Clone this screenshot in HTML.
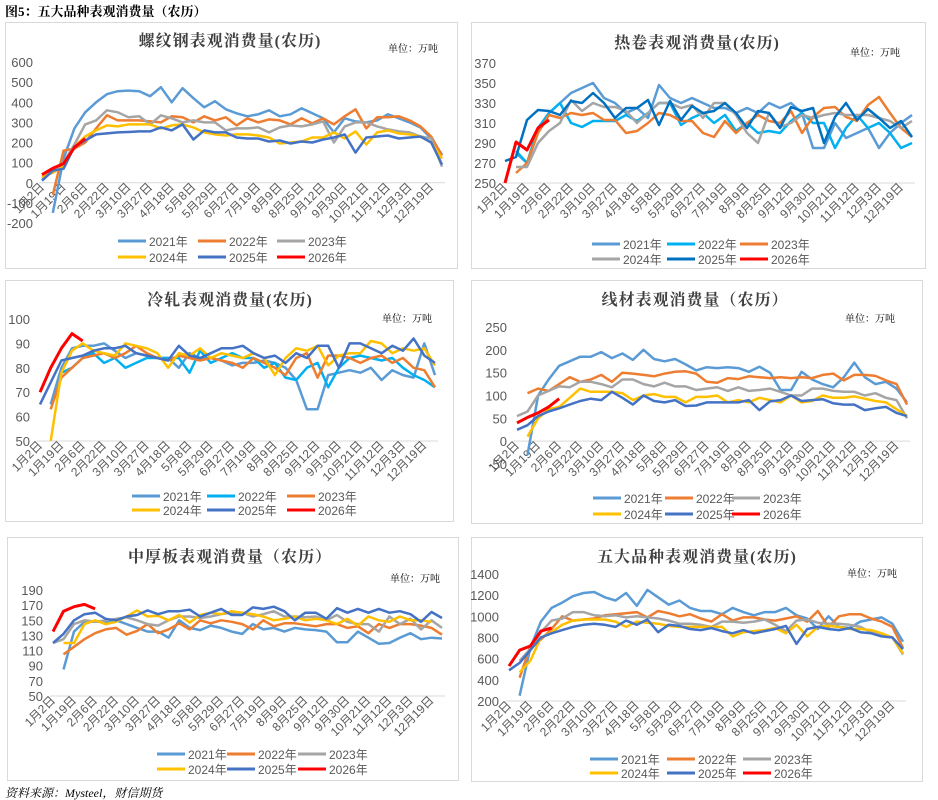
<!DOCTYPE html>
<html><head><meta charset="utf-8">
<style>
body{margin:0;background:#fff;width:938px;height:800px;overflow:hidden;font-family:"Liberation Sans","Noto Sans CJK SC",sans-serif;}
svg{position:absolute;left:0;top:0}
</style></head>
<body>
<svg id="c" width="938" height="800" xmlns="http://www.w3.org/2000/svg">
<text x="5" y="16" font-size="13" font-weight="bold" fill="#000" font-family="'Liberation Serif','Noto Serif CJK SC',serif">图5：五大品种表观消费量（农历）</text>
<text x="5" y="797" font-size="12" font-style="italic" fill="#000" font-family="'Liberation Serif','Noto Serif CJK SC',serif">资料来源：Mysteel，财信期货</text>
</svg>
<script>
const xLabels=["1月2日","1月19日","2月6日","2月22日","3月10日","3月27日","4月18日","5月8日","5月29日","6月27日","7月19日","8月9日","8月25日","9月12日","9月30日","10月21日","11月12日","12月3日","12月19日"];
const years=["2021年","2022年","2023年","2024年","2025年","2026年"];
// 螺纹钢
const rebar2021=[null,-150,120,270,350,400,440,455,458,455,430,475,400,470,420,375,405,365,345,330,340,360,330,340,370,345,320,250,320,305,300,310,340,320,300,275,220,140];
const rebar2022=[null,-60,160,170,200,270,335,310,310,310,305,300,330,325,300,330,310,325,285,320,300,315,310,290,320,295,320,290,330,365,270,325,325,330,310,280,230,135];
const rebar2023=[20,60,100,190,290,310,360,350,325,330,290,335,320,300,310,300,300,260,270,270,275,250,275,285,280,290,305,200,280,300,300,280,265,255,250,230,220,80];
const rebar2024=[30,50,80,180,230,260,285,280,290,290,290,270,285,290,275,250,240,235,240,240,235,225,195,200,205,225,225,250,220,255,190,250,260,245,240,230,200,120];
const rebar2025=[10,60,70,180,210,240,245,250,252,255,255,275,260,290,215,260,250,250,225,220,220,205,210,195,205,200,215,225,240,150,225,230,235,220,225,230,200,90];
const rebar2026=[40,72,95,175,220];
// 热卷
const hrc2021=[null,280,270,300,320,330,340,345,350,335,330,320,325,315,348,335,330,335,330,325,325,320,325,320,330,325,330,320,285,285,310,295,300,305,285,300,310,318];
const hrc2022=[null,282,270,305,320,330,310,306,312,312,312,318,312,320,330,330,308,315,320,310,318,302,310,300,302,300,312,320,310,310,285,305,318,305,310,300,285,290];
const hrc2023=[null,260,270,300,318,315,320,318,320,313,313,300,302,310,320,318,312,312,300,296,312,300,310,318,312,310,322,300,316,325,326,316,312,328,336,320,305,296];
const hrc2024=[null,266,266,290,302,310,333,322,330,326,326,322,310,320,330,330,325,328,315,330,330,318,300,290,320,306,310,318,315,318,320,318,318,318,315,312,305,312];
const hrc2025=[272,276,313,323,322,318,332,330,340,330,315,325,325,333,308,332,313,327,320,322,330,320,305,322,320,305,326,322,325,290,316,330,313,324,315,305,312,296];
const hrc2026=[250,291,283,305,313];
// 冷轧
const crc2021=[null,65,80,88,89,89,90,87,84,86,85,84,84,80,86,84,84,83,81,82,82,83,82,80,75,63,63,77,78,79,78,80,75,79,77,76,90,77];
const crc2022=[null,null,78,80,84,86,82,84,80,82,84,84,84,84,78,87,82,84,86,84,84,80,82,76,75,80,82,72,80,84,85,84,83,84,80,77,75,72];
const crc2023=[null,63,76,80,84,85,86,84,86,89,86,84,83,85,84,83,84,83,82,80,84,82,80,77,84,86,76,85,85,84,82,84,85,82,84,80,79,72];
const crc2024=[null,50,78,87,90,87,86,85,90,89,88,86,80,86,85,88,84,86,85,84,86,84,77,84,88,87,89,81,85,86,86,91,90,86,88,87,88,81];
const crc2025=[65,74,83,84,85,87,88,88,89,86,85,84,83,89,85,84,86,88,88,89,86,84,85,82,86,84,89,89,80,90,90,88,86,89,87,92,85,82];
const crc2026=[70,80,88,94,91];
// 线材
const wire2021=[null,-30,100,135,165,175,185,185,195,182,192,178,200,180,175,180,168,155,162,160,162,160,152,163,150,112,112,152,135,125,118,140,172,140,125,130,115,85];
const wire2022=[null,105,115,110,125,140,130,135,145,130,150,148,145,142,148,152,153,148,130,128,138,136,142,140,138,140,138,140,138,145,148,133,145,145,143,133,125,80];
const wire2023=[55,65,100,110,120,118,130,130,125,118,135,135,125,120,128,120,120,112,115,118,110,118,110,112,115,108,100,100,115,115,110,108,108,100,105,95,90,50];
const wire2024=[null,10,50,70,75,95,115,108,108,108,105,90,100,103,97,97,85,97,97,100,85,90,85,95,90,85,100,85,88,100,95,95,98,93,88,85,70,55];
const wire2025=[25,35,55,65,72,80,88,93,90,108,95,80,100,88,85,90,77,78,85,85,85,85,90,68,87,90,100,88,90,92,83,80,80,68,72,75,62,55];
const wire2026=[40,52,62,75,93];
// 中厚板
const plate2021=[null,85,135,148,148,148,150,145,140,135,135,127,150,140,137,143,140,135,132,145,138,140,135,140,138,137,135,121,121,135,127,119,120,127,133,125,127,126];
const plate2022=[null,105,115,125,133,138,140,131,136,145,133,138,146,138,150,146,150,148,145,138,150,142,146,146,144,142,145,145,140,142,133,145,140,145,145,143,140,131];
const plate2023=[120,125,145,150,148,150,152,154,150,145,143,150,155,155,153,155,158,160,160,155,158,162,155,155,154,155,150,157,148,145,145,135,155,145,152,138,150,140];
const plate2024=[null,120,120,145,150,145,148,155,163,155,156,150,157,147,157,160,158,162,160,158,155,150,152,155,150,152,150,145,152,143,155,150,148,155,150,150,148,null];
const plate2025=[120,132,150,158,160,152,150,155,157,163,158,162,162,164,155,160,165,157,157,167,165,168,162,150,160,160,152,166,160,165,160,165,160,162,158,148,161,153];
const plate2026=[135,162,168,171,165];
// 五大品种
const total2021=[null,250,700,950,1080,1130,1190,1220,1230,1180,1150,1220,1100,1250,1180,1110,1150,1080,1050,1050,1020,1080,1040,1010,1040,1040,1080,1010,980,880,1000,900,890,950,970,990,930,760];
const total2022=[null,420,720,780,880,1000,960,970,980,1010,1020,1030,1040,990,1050,1030,1000,1020,980,950,1020,960,990,990,970,960,980,1000,950,1050,900,1000,1020,1020,980,950,900,700];
const total2023=[null,580,690,850,960,980,1040,1040,1010,1000,1010,990,1000,990,980,960,930,930,920,900,950,950,940,950,970,920,860,960,970,940,930,930,920,900,850,820,800,640];
const total2024=[null,470,580,800,850,920,960,970,970,970,950,900,950,940,930,910,900,900,900,900,900,810,850,860,870,890,840,920,810,900,910,900,880,880,870,840,800,650];
const total2025=[490,560,680,800,840,870,900,920,930,920,900,960,920,970,850,920,910,880,870,890,860,840,870,840,860,880,910,740,880,900,880,870,890,850,840,810,800,690];
const total2026=[530,680,720,860,890];

const NS='http://www.w3.org/2000/svg';
const svg=document.getElementById('c');
function mk(tag,attrs,parent){const e=document.createElementNS(NS,tag);for(const k in attrs)e.setAttribute(k,attrs[k]);(parent||svg).appendChild(e);return e;}
const schemeA=["#5B9BD5","#ED7D31","#A5A5A5","#FFC000","#4472C4","#FF0000"];
const charts=[
 {name:'rebar',title:'螺纹钢表观消费量(农历)',box:[5,22,452,246],tx:230,ty:46,ux:388,uy:52,y0:62,y1:223,vmin:-200,vmax:600,step:100,axisV:0,x0:42,x1:442,tickR:33,
  series:[rebar2021,rebar2022,rebar2023,rebar2024,rebar2025,rebar2026],colors:schemeA,lx:[118,198,277],ly:[241,257]},
 {name:'hrc',title:'热卷表观消费量(农历)',box:[471,22,454,246],tx:697,ty:48,ux:850,uy:56,y0:63,y1:183,vmin:250,vmax:370,step:20,axisV:250,x0:505,x1:912,tickR:496,
  series:[hrc2021,hrc2022,hrc2023,hrc2024,hrc2025,hrc2026],colors:["#5B9BD5","#00B0F0","#ED7D31","#A5A5A5","#0070C0","#FF0000"],lx:[592,667,740],ly:[244,259]},
 {name:'crc',title:'冷轧表观消费量(农历)',box:[5,280,448,241],tx:230,ty:305,ux:382,uy:322,y0:319,y1:441,vmin:50,vmax:100,step:10,axisV:50,x0:40,x1:435,tickR:30,
  series:[crc2021,crc2022,crc2023,crc2024,crc2025,crc2026],colors:["#5B9BD5","#00B0F0","#ED7D31","#FFC000","#4472C4","#FF0000"],lx:[132,207,287],ly:[496,510]},
 {name:'wire',title:'线材表观消费量（农历）',box:[471,280,451,243],tx:695,ty:305,ux:845,uy:322,y0:327,y1:464,vmin:-50,vmax:250,step:50,axisV:0,x0:517,x1:907,tickR:507,
  series:[wire2021,wire2022,wire2023,wire2024,wire2025,wire2026],colors:schemeA,lx:[593,665,732],ly:[498,514]},
 {name:'plate',title:'中厚板表观消费量（农历）',box:[7,537,451,243],tx:230,ty:562,ux:390,uy:582,y0:590,y1:696,vmin:50,vmax:190,step:20,axisV:50,x0:53,x1:442,tickR:43,
  series:[plate2021,plate2022,plate2023,plate2024,plate2025,plate2026],colors:schemeA,lx:[157,227,298],ly:[754,769]},
 {name:'total',title:'五大品种表观消费量(农历)',box:[471,537,451,244],tx:697,ty:562,ux:847,uy:577,y0:574,y1:701,vmin:200,vmax:1400,step:200,axisV:200,x0:509,x1:903,tickR:499,
  series:[total2021,total2022,total2023,total2024,total2025,total2026],colors:schemeA,lx:[590,667,743],ly:[759,773]}
];
charts.forEach(c=>{
 const g=mk('g',{});
 
 
 const b=mk('rect',{x:c.box[0]+.5,y:c.box[1]+.5,width:c.box[2],height:c.box[3],fill:'#fff',stroke:'#d9d9d9','stroke-width':1},g);
 
 
 const t=mk('text',{x:c.tx,y:c.ty,'text-anchor':'middle','font-size':16,'font-weight':'bold','letter-spacing':1,fill:'#404040','font-family':"'Liberation Serif','Noto Serif CJK SC',serif"},g);
 t.textContent=c.title;
 
 
 const u=mk('text',{x:c.ux,y:c.uy,'font-size':10,fill:'#000','font-family':"'Liberation Serif','Noto Serif CJK SC',serif"},g);
 u.textContent='单位：万吨';
 
 
 const ys=v=>c.y1-(v-c.vmin)/(c.vmax-c.vmin)*(c.y1-c.y0);
 const N=38;
 const xs=i=>c.x0+i*(c.x1-c.x0)/(N-1);
 for(let v=c.vmin;v<=c.vmax+1e-9;v+=c.step){
  const tk=mk('text',{x:c.tickR,y:ys(v)+5,'text-anchor':'end','font-size':13,fill:'#595959'},g);
  tk.textContent=String(v);
  
  
 }
 const ay=ys(c.axisV);
 const ax=mk('line',{x1:c.x0-3,x2:c.x1+3,y1:ay,y2:ay,stroke:'#d9d9d9','stroke-width':1},g);
 
 
 xLabels.forEach((l,k)=>{
  const x=xs(k*2)+3,y=ay+5;
  const tl=mk('text',{x:x,y:y,'text-anchor':'end','font-size':12,fill:'#595959',transform:`rotate(-45 ${x} ${y})`},g);
  tl.textContent=l;
  
  
 });
 c.series.forEach((s,si)=>{
  let d='';let pen=false;
  s.forEach((v,i)=>{if(v==null){pen=false;return;}d+=(pen?'L':'M')+xs(i).toFixed(1)+' '+ys(v).toFixed(1)+' ';pen=true;});
  const p=mk('path',{d:d,fill:'none',stroke:c.colors[si],'stroke-width':si==5?3:2.5,'stroke-linejoin':'round'},g);
  
  
 });
 years.forEach((yname,si)=>{
  const lx=c.lx[si%3],ly=c.ly[Math.floor(si/3)];
  const lg=mk('g',{},g);
  
  
  mk('line',{x1:lx,x2:lx+28,y1:ly,y2:ly,stroke:c.colors[si],'stroke-width':3},lg);
  const lt=mk('text',{x:lx+31,y:ly+5,'font-size':12,fill:'#595959'},lg);
  lt.textContent=yname;
 });
});
</script>
</body></html>
